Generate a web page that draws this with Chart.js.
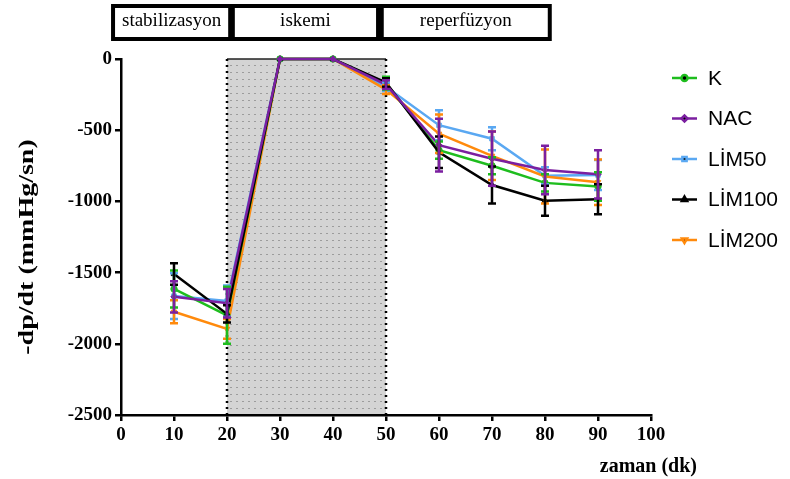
<!DOCTYPE html>
<html>
<head>
<meta charset="utf-8">
<script src="https://cdn.jsdelivr.net/npm/chart.js@4"></script>
<style>html,body{margin:0;padding:0;background:#fff}</style>
</head>
<body>
<canvas id="c" width="790" height="479"></canvas>
<script>
// zaman (dk)
var times = [10, 20, 30, 40, 50, 60, 70, 80, 90];

// -dp/dt means and error bars per group
var kMean      = [-1615, -1800, 0, 0, -170, -640, -750, -870, -895];
var kErr       = [130, 200, 0, 0, 45, 60, 60, 60, 100];
var nacMean    = [-1670, -1715, 0, 0, -180, -605, -700, -780, -810];
var nacErr     = [110, 100, 0, 0, 30, 185, 190, 170, 170];
var lim50Mean  = [-1665, -1700, 0, 0, -195, -465, -560, -820, -815];
var lim50Err   = [160, 110, 0, 0, 30, 105, 80, 60, 105];
var lim100Mean = [-1510, -1790, 0, 0, -165, -655, -885, -995, -985];
var lim100Err  = [75, 60, 0, 0, 30, 110, 130, 105, 105];
var lim200Mean = [-1775, -1895, 0, 0, -215, -525, -680, -825, -865];
var lim200Err  = [80, 70, 0, 0, 30, 135, 170, 190, 160];

var xTicks = [0, 10, 20, 30, 40, 50, 60, 70, 80, 90, 100];
var yTicks = [-2500, -2000, -1500, -1000, -500, 0];

var phases = [
  {label: 'stabilizasyon', from: -1.5, to: 20.6},
  {label: 'iskemi', from: 21.1, to: 48.5},
  {label: 'reperfüzyon', from: 49.2, to: 80.9}
];

var serif = '"Liberation Serif", "Times New Roman", serif';

function pts(mean) {
  return mean.map(function (v, i) { return {x: times[i], y: v}; });
}

function series(label, mean, err, color, style, rot, order) {
  return {
    label: label, data: pts(mean), err: err,
    borderColor: color, backgroundColor: color,
    borderWidth: 2.5, pointRadius: 3.2, pointStyle: style, pointRotation: rot || 0,
    pointBorderWidth: 1, order: order, clip: false, tension: 0
  };
}

var shading = {
  id: 'shading',
  beforeDatasetsDraw: function (chart) {
    var ctx = chart.ctx, xs = chart.scales.x, a = chart.chartArea;
    var x1 = xs.getPixelForValue(20), x2 = xs.getPixelForValue(50);
    ctx.save();
    ctx.fillStyle = '#d4d4d4';
    ctx.fillRect(x1, a.top, x2 - x1, a.bottom - a.top - 1);
    ctx.strokeStyle = '#9c9c9c';
    ctx.lineWidth = 1;
    ctx.setLineDash([2, 4]);
    for (var y = a.top + 6; y < a.bottom - 2; y += 7) {
      ctx.beginPath(); ctx.moveTo(x1 + 3, y + 0.5); ctx.lineTo(x2 - 2, y + 0.5); ctx.stroke();
    }
    ctx.setLineDash([]);
    ctx.strokeStyle = '#222';
    ctx.lineWidth = 1.5;
    ctx.beginPath(); ctx.moveTo(x1, a.top); ctx.lineTo(x2, a.top); ctx.stroke();
    ctx.strokeStyle = '#000';
    ctx.lineWidth = 2.5;
    ctx.setLineDash([2, 4]);
    [x1, x2].forEach(function (x) {
      ctx.beginPath(); ctx.moveTo(x, a.top); ctx.lineTo(x, a.bottom); ctx.stroke();
    });
    ctx.restore();
  }
};

var errorBars = {
  id: 'errorBars',
  afterDatasetsDraw: function (chart) {
    var ctx = chart.ctx, xs = chart.scales.x, ys = chart.scales.y;
    var metas = chart.getSortedVisibleDatasetMetas().slice().reverse();
    ctx.save();
    ctx.lineWidth = 2.5;
    metas.forEach(function (meta) {
      var ds = chart.data.datasets[meta.index];
      ctx.strokeStyle = ds.borderColor;
      ds.data.forEach(function (p, i) {
        var e = ds.err[i];
        if (!e) return;
        var x = xs.getPixelForValue(p.x);
        var yt = ys.getPixelForValue(p.y + e), yb = ys.getPixelForValue(p.y - e);
        ctx.beginPath();
        ctx.moveTo(x, yt); ctx.lineTo(x, yb);
        ctx.moveTo(x - 4, yt); ctx.lineTo(x + 4, yt);
        ctx.moveTo(x - 4, yb); ctx.lineTo(x + 4, yb);
        ctx.stroke();
      });
    });
    ctx.restore();
  }
};

var extras = {
  id: 'extras',
  afterDraw: function (chart) {
    var ctx = chart.ctx, xs = chart.scales.x;
    ctx.save();
    // phase boxes
    ctx.lineWidth = 4;
    ctx.strokeStyle = '#000';
    ctx.fillStyle = '#000';
    ctx.font = '19px ' + serif;
    ctx.textAlign = 'center';
    ctx.textBaseline = 'middle';
    phases.forEach(function (ph) {
      var l = xs.getPixelForValue(ph.from), r = xs.getPixelForValue(ph.to);
      ctx.strokeRect(l, 6, r - l, 33);
      ctx.fillText(ph.label, (l + r) / 2, 21);
    });
    // axis titles
    ctx.font = 'bold 20px ' + serif;
    ctx.textAlign = 'right';
    ctx.textBaseline = 'alphabetic';
    ctx.fillText('zaman (dk)', 697, 472);
    ctx.save();
    ctx.translate(33, 247);
    ctx.rotate(-Math.PI / 2);
    ctx.scale(1.4, 1);
    ctx.font = 'bold 20px ' + serif;
    ctx.textAlign = 'center';
    ctx.fillText('-dp/dt (mmHg/sn)', 0, 0);
    ctx.restore();
    // legend
    ctx.font = '21px "Liberation Sans", Arial, sans-serif';
    ctx.textAlign = 'left';
    ctx.textBaseline = 'middle';
    chart.data.datasets.forEach(function (ds, i) {
      var y = 78 + i * 40.5;
      ctx.strokeStyle = ds.borderColor;
      ctx.lineWidth = 2.5;
      ctx.beginPath(); ctx.moveTo(672, y); ctx.lineTo(697, y); ctx.stroke();
      Chart.helpers.drawPoint(ctx, {pointStyle: ds.pointStyle, radius: 3, rotation: ds.pointRotation, borderWidth: 1}, 684.5, y);
      ctx.fillStyle = '#000';
      ctx.fillText(ds.label, 708, y + 1);
    });
    ctx.restore();
  }
};

var tickFont = {family: serif, size: 19, weight: 'bold'};

new Chart(document.getElementById('c'), {
  type: 'line',
  data: {
    datasets: [
      series('K', kMean, kErr, '#1ebd1e', 'circle', 0, 2),
      series('NAC', nacMean, nacErr, '#7b1fa0', 'rectRot', 0, 0),
      series('LİM50', lim50Mean, lim50Err, '#5aa8f2', 'rect', 0, 4),
      series('LİM100', lim100Mean, lim100Err, '#000000', 'triangle', 0, 1),
      series('LİM200', lim200Mean, lim200Err, '#ff8a0c', 'triangle', 180, 3)
    ]
  },
  options: {
    responsive: false,
    animation: false,
    devicePixelRatio: 1,
    layout: {padding: {left: 0, right: 139, top: 59, bottom: 0}},
    plugins: {legend: {display: false}, tooltip: {enabled: false}},
    scales: {
      x: {
        type: 'linear', min: 0, max: 100,
        afterFit: function (s) { s.height = 64; },
        afterBuildTicks: function (s) { s.ticks = xTicks.map(function (v) { return {value: v}; }); },
        grid: {drawOnChartArea: false, color: '#000', lineWidth: 2.5, tickLength: 6},
        border: {color: '#000', width: 2.5},
        ticks: {color: '#000', font: tickFont, padding: 3, maxRotation: 0,
          callback: function (v) { return String(v); }}
      },
      y: {
        type: 'linear', min: -2500, max: 0,
        afterFit: function (s) { s.width = 121; },
        afterBuildTicks: function (s) { s.ticks = yTicks.map(function (v) { return {value: v}; }); },
        grid: {drawOnChartArea: false, color: '#000', lineWidth: 2.5, tickLength: 6},
        border: {color: '#000', width: 2.5},
        ticks: {color: '#000', font: tickFont, padding: 3,
          callback: function (v) { return String(v); }}
      }
    }
  },
  plugins: [shading, errorBars, extras]
});
</script>
</body>
</html>
